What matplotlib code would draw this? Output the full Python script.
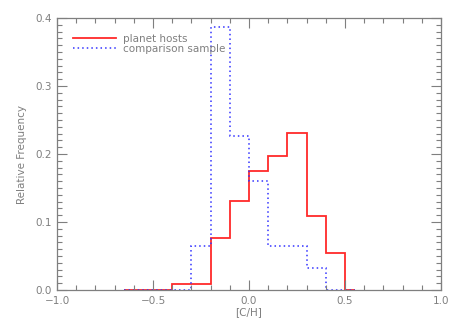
import numpy as np
import matplotlib
matplotlib.use("Agg")
import matplotlib.pyplot as plt
from matplotlib.ticker import MultipleLocator

# bin edges in [C/H] and relative frequency per bin
edges = [-0.65, -0.6, -0.5, -0.4, -0.3, -0.2, -0.1, 0.0, 0.1, 0.2, 0.3, 0.4, 0.5, 0.55]
planet_hosts = [0, 0, 0, 0.009, 0.009, 0.076, 0.131, 0.175, 0.197, 0.231, 0.109, 0.054, 0]
comparison = [0, 0, 0, 0, 0.064, 0.387, 0.226, 0.161, 0.064, 0.064, 0.032, 0, 0]

gray = "#7f7f7f"

fig = plt.figure(figsize=(4.58, 3.27), dpi=100)
ax = fig.add_axes([57 / 458, 1 - 290 / 327, 384 / 458, 272 / 327])

ax.stairs(planet_hosts, edges, color="#ff2a2a", lw=1.3, label="planet hosts")
ax.stairs(comparison, edges, color="#3333ff", lw=1.1, ls=(0, (1, 2)),
          label="comparison sample")

ax.set_xlim(-1.0, 1.0)
ax.set_ylim(0.0, 0.4)
ax.xaxis.set_major_locator(MultipleLocator(0.5))
ax.xaxis.set_minor_locator(MultipleLocator(0.1))
ax.yaxis.set_major_locator(MultipleLocator(0.1))
ax.yaxis.set_minor_locator(MultipleLocator(0.01))
ax.xaxis.set_major_formatter(lambda v, p: f"{v:.1f}".replace("-", "\u2212"))
ax.yaxis.set_major_formatter(lambda v, p: f"{v:.1f}")

ax.tick_params(which="both", direction="in", top=True, right=True,
               color=gray, labelcolor=gray, labelsize=7.5, width=0.8)
ax.tick_params(which="major", length=7, pad=4)
ax.tick_params(which="minor", length=3.5)
for s in ax.spines.values():
    s.set_color(gray)
    s.set_linewidth(0.9)

ax.set_xlabel("[C/H]", color=gray, fontsize=7.5, labelpad=1)
ax.set_ylabel("Relative Frequency", color=gray, fontsize=7.5, labelpad=6)

leg = ax.legend(loc="upper left", frameon=False, fontsize=7.5,
                handlelength=4.2, handletextpad=0.6, borderaxespad=1.1,
                labelspacing=0.05)
for t in leg.get_texts():
    t.set_color(gray)

fig.savefig("out.png", dpi=100)
